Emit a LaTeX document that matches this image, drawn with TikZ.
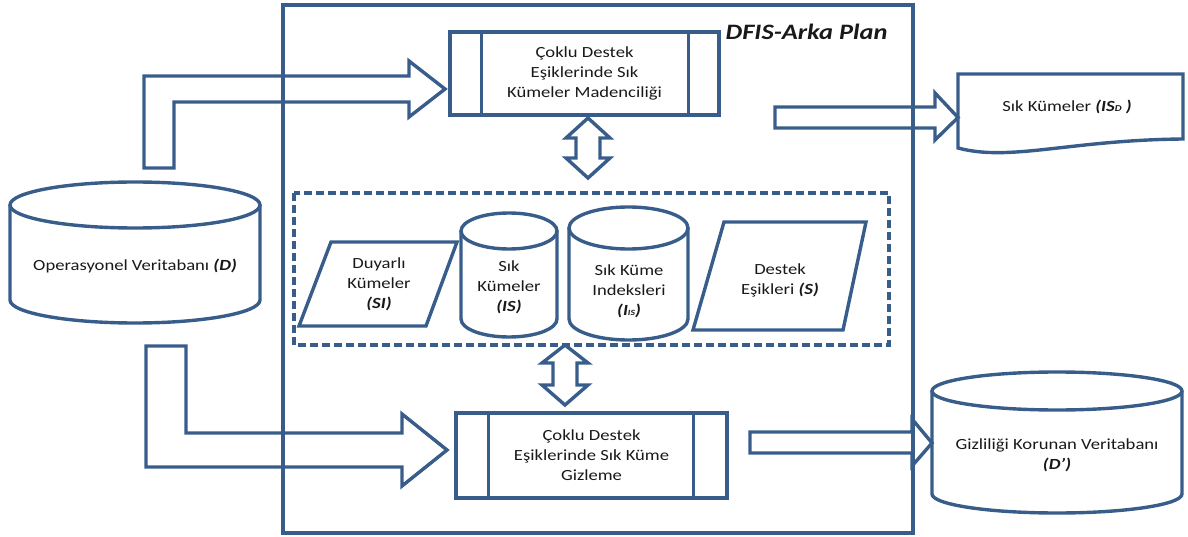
\documentclass[tikz,border=0pt]{standalone}
\usepackage{fontspec}
\setmainfont{Carlito}[FakeStretch=1.2]
\usepackage{xcolor}
\usepackage{tikz}
\usetikzlibrary{positioning}
\definecolor{dfblue}{RGB}{56,93,138}
\tikzset{dline/.style={draw=dfblue, line width=3.4pt, line join=miter}}
\tikzset{proc/.style={dline, rectangle, inner sep=0pt}}
\tikzset{txt/.style={font=\fontsize{15.5}{20}\selectfont, text=black!90, align=center}}
\tikzset{dashbox/.style={dline, dash pattern=on 8pt off 4pt}}
\newcommand{\dbshape}[5]{%
  \draw[dline] (#1,#3+#5) -- (#1,#4-#5) arc[start angle=180, end angle=0, x radius={(#2-#1)/2}, y radius=#5] -- (#2,#3+#5);
  \draw[dline] ({(#1+#2)/2},#3+#5) ellipse[x radius={(#2-#1)/2}, y radius=#5];}

\begin{document}
\begin{tikzpicture}[x=1pt,y=-1pt]
\useasboundingbox (0,0) rectangle (1188,537);
\draw[dline] (283,5) rectangle (913,533);
\node[txt, anchor=east, font=\fontsize{22}{26}\selectfont\bfseries\itshape] (title) at (891,32) {DFIS-Arka Plan};

\node[proc, txt, minimum width=269pt, minimum height=83pt] (mine) at (584.5,73.5) {Çoklu Destek\\Eşiklerinde Sık\\Kümeler Madenciliği};
\draw[dline] ([xshift=33pt]mine.north west) -- ([xshift=33pt]mine.south west);
\draw[dline] ([xshift=-32pt]mine.north east) -- ([xshift=-32pt]mine.south east);

\node[proc, txt, minimum width=271pt, minimum height=85pt] (hide) at (591.5,455.5) {Çoklu Destek\\Eşiklerinde Sık Küme\\Gizleme};
\draw[dline] ([xshift=34pt]hide.north west) -- ([xshift=34pt]hide.south west);
\draw[dline] ([xshift=-35pt]hide.north east) -- ([xshift=-35pt]hide.south east);

\draw[dashbox] (294,193) rectangle (889,345);

\draw[dline] (331,242) -- (457,242) -- (426,326) -- (299,326) -- cycle;
\node[txt] (sens) at (379,284) {Duyarlı\\Kümeler\\\textbf{\textit{(SI)}}};
\dbshape{461}{557}{213}{337}{18}
\node[txt] (freq) at (509,287) {Sık\\Kümeler\\\textbf{\textit{(IS)}}};
\dbshape{569}{688}{207}{340}{21}
\node[txt] (idx) at (629,291) {Sık Küme\\Indeksleri\\\textbf{\textit{(I{\footnotesize IS})}}};
\draw[dline] (724,222) -- (866,222) -- (843,330) -- (693,330) -- cycle;
\node[txt] (thr) at (780,280) {Destek\\Eşikleri \textbf{\textit{(S)}}};

\dbshape{10}{260}{182}{323}{23}
\node[txt] (opdb) at (135,266) {Operasyonel Veritabanı \textbf{\textit{(D)}}};

\dbshape{932}{1182}{372}{513}{19}
\node[txt] (privdb) at (1057,455) {Gizliliği Korunan Veritabanı\\\textbf{\textit{(D’)}}};

\draw[dline] (958,74) -- (1183,74) -- (1183,139) .. controls (1070,140) and (1010,162) .. (958,148) -- cycle;
\node[txt] (isd) at (1067,107) {Sık Kümeler \textbf{\textit{(IS{\small D} )}}};

\draw[dline] (144,168) -- (144,76) -- (409,76) -- (409,61) -- (445,89) -- (409,117) -- (409,102) -- (174,102) -- (174,168) -- cycle;
\draw[dline] (146,346) -- (186,346) -- (186,433) -- (402,433) -- (402,414) -- (447,450) -- (402,486) -- (402,467) -- (146,467) -- cycle;
\draw[dline] (775,107) -- (935,107) -- (935,93) -- (958,117.5) -- (935,140) -- (935,128) -- (775,128) -- cycle;
\draw[dline] (750,432) -- (912,432) -- (912,419) -- (932,443) -- (912,466) -- (912,453) -- (750,453) -- cycle;

\draw[dline] (588,118) -- (610,138) -- (600,138) -- (600,158) -- (610,158) -- (588,178) -- (566,158) -- (576,158) -- (576,138) -- (566,138) -- cycle;
\draw[dline] (565,345) -- (588,363) -- (577,363) -- (577,385) -- (588,385) -- (565,405) -- (542,385) -- (553,385) -- (553,363) -- (542,363) -- cycle;
\end{tikzpicture}
\end{document}
